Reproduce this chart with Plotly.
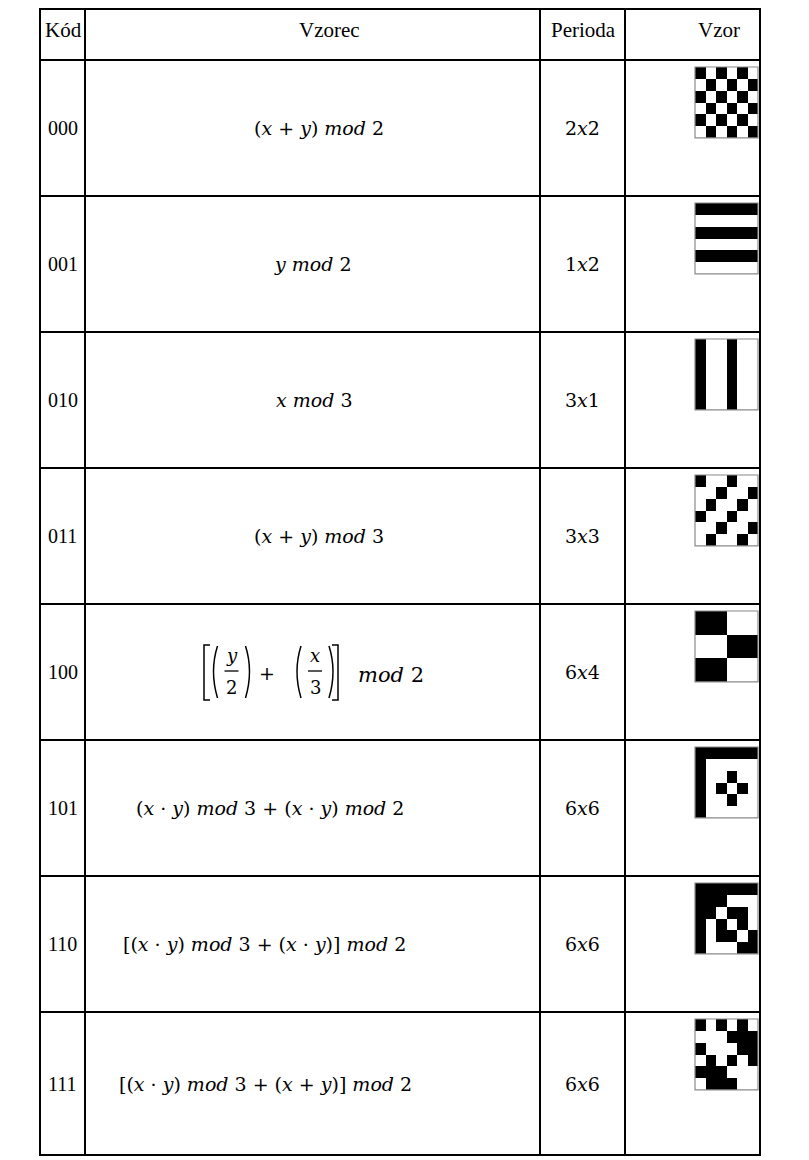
import re
import plotly.graph_objects as go

W, H = 809, 1160

# ---------------- data ----------------
headers = ["Kód", "Vzorec", "Perioda", "Vzor"]
codes = ["000", "001", "010", "011", "100", "101", "110", "111"]
formulas = [
    "(x + y) mod 2",
    "y mod 2",
    "x mod 3",
    "(x + y) mod 3",
    "[(y/2) + (x/3)] mod 2",
    "(x · y) mod 3 + (x · y) mod 2",
    "[(x · y) mod 3 + (x · y)] mod 2",
    "[(x · y) mod 3 + (x + y)] mod 2",
]
periods = ["2x2", "1x2", "3x1", "3x3", "6x4", "6x6", "6x6", "6x6"]

# pieces of the fraction formula (row "100")
frac_numerators = ["y", "x"]
frac_denominators = ["2", "3"]
frac_modulus = "2"

pattern_000 = [[1, 0, 1, 0, 1, 0],
               [0, 1, 0, 1, 0, 1],
               [1, 0, 1, 0, 1, 0],
               [0, 1, 0, 1, 0, 1],
               [1, 0, 1, 0, 1, 0],
               [0, 1, 0, 1, 0, 1]]
pattern_001 = [[1, 1, 1, 1, 1, 1],
               [0, 0, 0, 0, 0, 0],
               [1, 1, 1, 1, 1, 1],
               [0, 0, 0, 0, 0, 0],
               [1, 1, 1, 1, 1, 1],
               [0, 0, 0, 0, 0, 0]]
pattern_010 = [[1, 0, 0, 1, 0, 0],
               [1, 0, 0, 1, 0, 0],
               [1, 0, 0, 1, 0, 0],
               [1, 0, 0, 1, 0, 0],
               [1, 0, 0, 1, 0, 0],
               [1, 0, 0, 1, 0, 0]]
pattern_011 = [[1, 0, 0, 1, 0, 0],
               [0, 0, 1, 0, 0, 1],
               [0, 1, 0, 0, 1, 0],
               [1, 0, 0, 1, 0, 0],
               [0, 0, 1, 0, 0, 1],
               [0, 1, 0, 0, 1, 0]]
pattern_100 = [[1, 1, 1, 0, 0, 0],
               [1, 1, 1, 0, 0, 0],
               [0, 0, 0, 1, 1, 1],
               [0, 0, 0, 1, 1, 1],
               [1, 1, 1, 0, 0, 0],
               [1, 1, 1, 0, 0, 0]]
pattern_101 = [[1, 1, 1, 1, 1, 1],
               [1, 0, 0, 0, 0, 0],
               [1, 0, 0, 1, 0, 0],
               [1, 0, 1, 0, 1, 0],
               [1, 0, 0, 1, 0, 0],
               [1, 0, 0, 0, 0, 0]]
pattern_110 = [[1, 1, 1, 1, 1, 1],
               [1, 1, 1, 0, 0, 0],
               [1, 1, 0, 1, 1, 0],
               [1, 0, 1, 0, 1, 0],
               [1, 0, 1, 1, 0, 1],
               [1, 0, 0, 0, 1, 1]]
pattern_111 = [[1, 0, 1, 0, 1, 0],
               [0, 0, 0, 1, 1, 1],
               [1, 0, 0, 0, 1, 1],
               [0, 1, 0, 1, 0, 1],
               [1, 1, 1, 0, 0, 0],
               [0, 1, 1, 1, 0, 0]]
patterns = [pattern_000, pattern_001, pattern_010, pattern_011,
            pattern_100, pattern_101, pattern_110, pattern_111]

# ---------------- layout geometry (pixels) ----------------
col_edges = [32, 77, 532, 617, 752]
row_step = 136.0
row_edges = [1, 52] + [52 + row_step * k for k in range(1, 8)] + [1147]
header_y = 22
header_x = [55, 321, 575, 711]
formula_x = [311, 305, 306, 311, 307, 262, 256, 257]
pat_left = 687
pat_gap = 7
cell_w = 10.5
cell_h = 11.8

TEXT_FONT = "Liberation Serif"
MATH_FONT = "DejaVu Serif"
HEAD_SIZE = 21
CODE_SIZE = 20
MATH_SIZE = 19


def italicize(s):
    return re.sub(r"mod|x|y", lambda m: "<i>" + m.group(0) + "</i>", s)


fig = go.Figure()

for i, pat in enumerate(patterns):
    top = row_edges[i + 1] + pat_gap
    fig.add_trace(go.Heatmap(
        z=pat, x0=pat_left + cell_w / 2, dx=cell_w,
        y0=top + cell_h / 2, dy=cell_h,
        colorscale=[[0, "white"], [1, "black"]], zmin=0, zmax=1,
        showscale=False, hoverinfo="skip"))

shapes = []
for i, pat in enumerate(patterns):
    top = row_edges[i + 1] + pat_gap
    shapes.append(dict(type="rect", xref="x", yref="y",
                       x0=pat_left, x1=pat_left + cell_w * len(pat[0]),
                       y0=top, y1=top + cell_h * len(pat),
                       line=dict(color="#8a8a8a", width=1.2), layer="above"))
for y in row_edges:
    shapes.append(dict(type="line", xref="x", yref="y", x0=col_edges[0] - 1, x1=col_edges[-1] + 1,
                       y0=y, y1=y, line=dict(color="black", width=2)))
for x in col_edges:
    shapes.append(dict(type="line", xref="x", yref="y", x0=x, x1=x,
                       y0=row_edges[0], y1=row_edges[-1], line=dict(color="black", width=2)))

annotations = []


def add_text(x, y, text, size, family, xanchor="center"):
    annotations.append(dict(x=x, y=y, xref="x", yref="y", text=text, showarrow=False,
                            xanchor=xanchor, yanchor="middle",
                            font=dict(family=family, size=size, color="black")))


col_centers = [(col_edges[k] + col_edges[k + 1]) / 2 for k in range(4)]
for k, h in enumerate(headers):
    add_text(header_x[k], header_y, h, HEAD_SIZE, TEXT_FONT)

for i in range(8):
    cy = (row_edges[i + 1] + row_edges[i + 2]) / 2
    add_text(col_centers[0], cy, codes[i], CODE_SIZE, TEXT_FONT)
    add_text(col_centers[2], cy, italicize(periods[i]), MATH_SIZE, MATH_FONT)
    if i != 4:
        add_text(formula_x[i], cy, italicize(formulas[i]), MATH_SIZE, MATH_FONT)
    else:
        base = cy + 3
        frac_cx = [223.5, 307]
        for j in range(2):
            fx = frac_cx[j]
            add_text(fx, base - 20, italicize(frac_numerators[j]), MATH_SIZE - 1, MATH_FONT)
            add_text(fx, base + 12, frac_denominators[j], MATH_SIZE - 1, MATH_FONT)
            shapes.append(dict(type="line", xref="x", yref="y", x0=fx - 7, x1=fx + 7,
                               y0=base - 4, y1=base - 4, line=dict(color="black", width=1.3)))
            for side in (-1, 1):
                px = fx + side * 14
                shapes.append(dict(type="path", xref="x", yref="y",
                                   path=f"M {px},{base - 29} Q {px + side * 8},{base - 4} {px},{base + 23}",
                                   line=dict(color="black", width=1.5)))
        add_text(259, base - 2, "+", MATH_SIZE, MATH_FONT)
        for side, bx in ((-1, 196), (1, 330)):
            shapes.append(dict(type="path", xref="x", yref="y",
                               path=f"M {bx - side * 6},{base - 30} L {bx},{base - 30} L {bx},{base + 25} L {bx - side * 6},{base + 25}",
                               line=dict(color="black", width=1.5)))
        add_text(348, base, italicize("mod " + frac_modulus), MATH_SIZE + 2, MATH_FONT, xanchor="left")

fig.update_layout(
    width=W, height=H, margin=dict(l=0, r=0, t=0, b=0),
    paper_bgcolor="white", plot_bgcolor="white",
    xaxis=dict(range=[0, W], visible=False, fixedrange=True),
    yaxis=dict(range=[H, 0], visible=False, fixedrange=True),
    shapes=shapes, annotations=annotations, showlegend=False,
)

fig.write_html("out.html")
